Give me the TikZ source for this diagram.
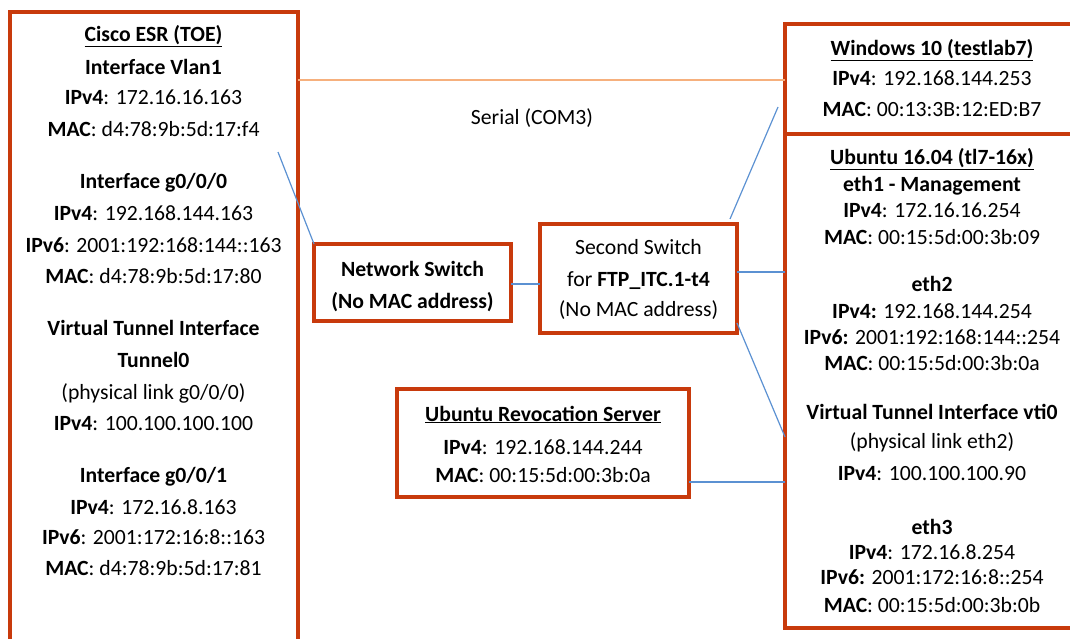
\documentclass[tikz,border=0pt]{standalone}
\usepackage{fontspec}
\setmainfont{Carlito}
\usetikzlibrary{calc}
\definecolor{boxred}{RGB}{200,58,12}
\definecolor{linkblue}{RGB}{91,145,210}
\definecolor{serialorange}{RGB}{246,176,125}
\begin{document}
\begin{tikzpicture}[x=1pt,y=-1pt,
  box/.style={draw=boxred,line width=4pt,inner sep=0pt,outer sep=0pt,anchor=north west},
  txt/.style={inner sep=0pt,anchor=base,font=\fontsize{21.7}{26}\selectfont},
  link/.style={draw=linkblue,line width=1.2pt},
  serial/.style={draw=serialorange,line width=1.5pt}]
\useasboundingbox (0,0) rectangle (1070,639);
\fill[white] (0,0) rectangle (1070,639);
\clip (0,0) rectangle (1070,639);
% boxes
\node[box,minimum width=287.5pt,minimum height=660pt] (esr) at (10,12.5) {};
\node[box,minimum width=300pt,minimum height=110pt] (win) at (785,24) {};
\node[box,minimum width=300pt,minimum height=494pt] (ubu) at (785,134) {};
\node[box,minimum width=197pt,minimum height=77pt] (ns) at (314,244) {};
\node[box,minimum width=197pt,minimum height=109pt] (ss) at (540,224) {};
\node[box,minimum width=292pt,minimum height=108pt] (rev) at (397,389) {};
% left box text
\node[txt] (e1) at (153.5,42) {\textbf{\underline{Cisco ESR (TOE)}}};
\node[txt] (e2) at (153.5,75) {\textbf{Interface Vlan1}};
\node[txt] (e3) at (153.5,105) {\textbf{IPv4}: 172.16.16.163};
\node[txt] (e4) at (153.5,137) {\textbf{MAC}: d4:78:9b:5d:17:f4};
\node[txt] (e5) at (153.5,189) {\textbf{Interface g0/0/0}};
\node[txt] (e6) at (153.5,220) {\textbf{IPv4}: 192.168.144.163};
\node[txt] (e7) at (153.5,252) {\textbf{IPv6}: 2001:192:168:144::163};
\node[txt] (e8) at (153.5,283) {\textbf{MAC}: d4:78:9b:5d:17:80};
\node[txt] (e9) at (153.5,335) {\textbf{Virtual Tunnel Interface}};
\node[txt] (e10) at (153.5,367) {\textbf{Tunnel0}};
\node[txt] (e11) at (153.5,399) {(physical link g0/0/0)};
\node[txt] (e12) at (153.5,430) {\textbf{IPv4}: 100.100.100.100};
\node[txt] (e13) at (153.5,482) {\textbf{Interface g0/0/1}};
\node[txt] (e14) at (153.5,514) {\textbf{IPv4}: 172.16.8.163};
\node[txt] (e15) at (153.5,544) {\textbf{IPv6}: 2001:172:16:8::163};
\node[txt] (e16) at (153.5,575) {\textbf{MAC}: d4:78:9b:5d:17:81};
% windows box text
\node[txt] (w1) at (932,56) {\textbf{\underline{Windows 10 (testlab7)}}};
\node[txt] (w2) at (932,86) {\textbf{IPv4}: 192.168.144.253};
\node[txt] (w3) at (932,117) {\textbf{MAC}: 00:13:3B:12:ED:B7};
% ubuntu box text
\node[txt] (u1) at (932,165) {\textbf{\underline{Ubuntu 16.04 (tl7-16x)}}};
\node[txt] (u2) at (932,191) {\textbf{eth1 - Management}};
\node[txt] (u3) at (932,218) {\textbf{IPv4}: 172.16.16.254};
\node[txt] (u4) at (932,244) {\textbf{MAC}: 00:15:5d:00:3b:09};
\node[txt] (u5) at (932,291) {\textbf{eth2}};
\node[txt] (u6) at (932,318) {\textbf{IPv4:} 192.168.144.254};
\node[txt] (u7) at (932,344) {\textbf{IPv6:} 2001:192:168:144::254};
\node[txt] (u8) at (932,370) {\textbf{MAC}: 00:15:5d:00:3b:0a};
\node[txt] (u9) at (932,419) {\textbf{Virtual Tunnel Interface vti0}};
\node[txt] (u10) at (932,448) {(physical link eth2)};
\node[txt] (u11) at (932,480) {\textbf{IPv4}: 100.100.100.90};
\node[txt] (u12) at (932,534) {\textbf{eth3}};
\node[txt] (u13) at (932,559) {\textbf{IPv4}: 172.16.8.254};
\node[txt] (u14) at (932,584) {\textbf{IPv6:} 2001:172:16:8::254};
\node[txt] (u15) at (932,612) {\textbf{MAC}: 00:15:5d:00:3b:0b};
% switches
\node[txt] (n1) at (412.5,276) {\textbf{Network Switch}};
\node[txt] (n2) at (412.5,308) {\textbf{(No MAC address)}};
\node[txt] (s1) at (638.5,254) {Second Switch};
\node[txt] (s2) at (638.5,286) {for \textbf{FTP\_ITC.1-t4}};
\node[txt] (s3) at (638.5,316) {(No MAC address)};
% revocation server
\node[txt] (r1) at (543,421) {\textbf{\underline{Ubuntu Revocation Server}}};
\node[txt] (r2) at (543,454) {\textbf{IPv4}: 192.168.144.244};
\node[txt] (r3) at (543,482) {\textbf{MAC}: 00:15:5d:00:3b:0a};
% serial label
\node[txt] (ser) at (532,125) {Serial (COM3)};
% connectors
\coordinate (y80) at (0,80);
\draw[serial] (esr.east |- y80) -- (win.west |- y80);
\coordinate (c1) at (278,152);
\draw[link] (c1) -- (ns.north west);
\coordinate (y284) at (0,284);
\draw[link] (ns.east |- y284) -- (ss.west |- y284);
\coordinate (c2) at (730,219);
\coordinate (c3) at (778,107);
\draw[link] (c2) -- (c3);
\coordinate (y272) at (0,272);
\draw[link] (ss.east |- y272) -- (ubu.west |- y272);
\coordinate (c4) at (737,323);
\coordinate (c5) at (785,437);
\draw[link] (c4) -- (c5);
\coordinate (y482) at (0,482);
\draw[link] (rev.east |- y482) -- (ubu.west |- y482);
\end{tikzpicture}
\end{document}
